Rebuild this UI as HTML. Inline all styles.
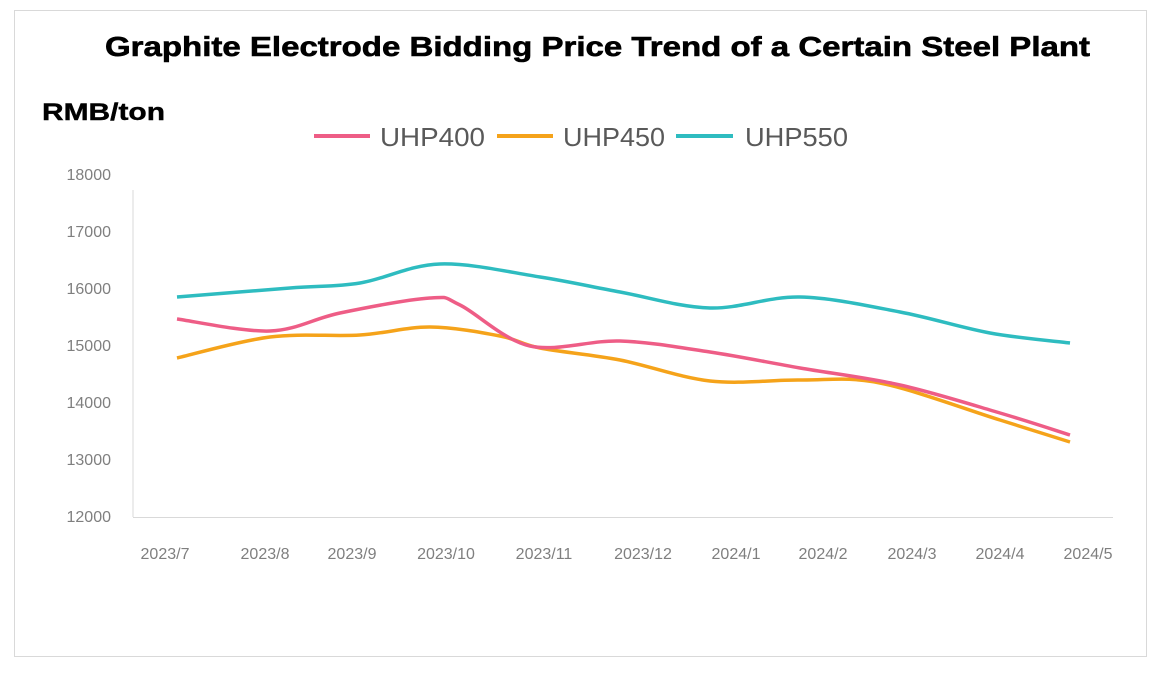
<!DOCTYPE html>
<html><head><meta charset="utf-8"><style>
body{margin:0;background:#fff;width:1164px;height:674px;overflow:hidden;font-family:"Liberation Sans",sans-serif}
</style></head><body>
<svg width="1164" height="674" viewBox="0 0 1164 674" xmlns="http://www.w3.org/2000/svg">
<rect x="14.5" y="10.5" width="1132" height="646" fill="#fff" stroke="#d9d9d9"/>
<text x="105" y="56" textLength="985" lengthAdjust="spacingAndGlyphs" font-family="Liberation Sans" font-weight="bold" font-size="28" fill="#000" stroke="#000" stroke-width="0.6">Graphite Electrode Bidding Price Trend of a Certain Steel Plant</text>
<text x="42" y="120" textLength="123" lengthAdjust="spacingAndGlyphs" font-family="Liberation Sans" font-weight="bold" font-size="24" fill="#000" stroke="#000" stroke-width="0.4">RMB/ton</text>
<g font-family="Liberation Sans" font-size="26" fill="#595959">
<line x1="314" y1="136" x2="370" y2="136" stroke="#ee5d86" stroke-width="4"/><text x="380" y="146" textLength="105" lengthAdjust="spacingAndGlyphs">UHP400</text>
<line x1="497" y1="136" x2="553" y2="136" stroke="#f5a31a" stroke-width="4"/><text x="563" y="146" textLength="102" lengthAdjust="spacingAndGlyphs">UHP450</text>
<line x1="676" y1="136" x2="733" y2="136" stroke="#2ebcc0" stroke-width="4"/><text x="745" y="146" textLength="103" lengthAdjust="spacingAndGlyphs">UHP550</text>
</g>
<g font-family="Liberation Sans" font-size="16" fill="#7f7f7f" text-anchor="end">
<text x="111" y="180">18000</text><text x="111" y="237">17000</text><text x="111" y="294">16000</text>
<text x="111" y="351">15000</text><text x="111" y="408">14000</text><text x="111" y="465">13000</text><text x="111" y="522">12000</text>
</g>
<line x1="133" y1="190" x2="133" y2="517" stroke="#d9d9d9"/>
<line x1="133" y1="517.5" x2="1113" y2="517.5" stroke="#d9d9d9"/>
<g font-family="Liberation Sans" font-size="16" fill="#7f7f7f" text-anchor="middle">
<text x="165" y="559">2023/7</text><text x="265" y="559">2023/8</text><text x="352" y="559">2023/9</text>
<text x="446" y="559">2023/10</text><text x="544" y="559">2023/11</text><text x="643" y="559">2023/12</text>
<text x="736" y="559">2024/1</text><text x="823" y="559">2024/2</text><text x="912" y="559">2024/3</text>
<text x="1000" y="559">2024/4</text><text x="1088" y="559">2024/5</text>
</g>
<path id="p550" fill="none" stroke="#2ebcc0" stroke-width="3.5"/>
<path id="p450" fill="none" stroke="#f5a31a" stroke-width="3.5"/>
<path id="p400" fill="none" stroke="#ee5d86" stroke-width="3.5"/>
</svg>
<script>
function cr(p){let d="M"+p[0][0]+","+p[0][1];for(let i=0;i<p.length-1;i++){const a=p[i-1]||p[i],b=p[i],c=p[i+1],e=p[i+2]||c;
d+=` C${b[0]+(c[0]-a[0])/6},${b[1]+(c[1]-a[1])/6} ${c[0]-(e[0]-b[0])/6},${c[1]-(e[1]-b[1])/6} ${c[0]},${c[1]}`;}return d;}
document.getElementById("p550").setAttribute("d",cr([[177,297],[290,288],[360,283],[440,264],[540,277],[620,292],[710,308],[800,297],[900,312],[990,333],[1070,343]]));
document.getElementById("p400").setAttribute("d",cr([[177,319],[270,331],[340,313],[430,298],[460,305],[530,346],[620,341],[710,352],[800,368],[900,385],[1000,413],[1070,435]]));
document.getElementById("p450").setAttribute("d",cr([[177,358],[270,337],[360,335],[430,327],[500,336],[540,348],[620,360],[710,381],[800,380],[880,383],[1000,420],[1070,442]]));
</script>
</body></html>
